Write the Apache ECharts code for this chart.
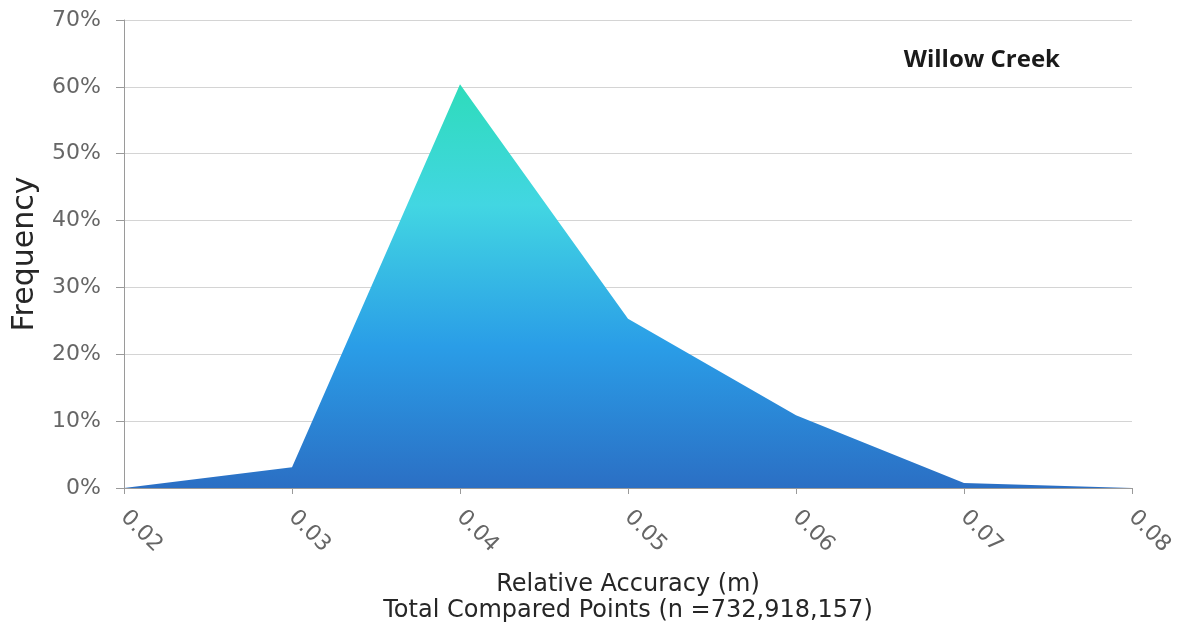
<!DOCTYPE html>
<html><head><meta charset="utf-8">
<script src="https://cdn.jsdelivr.net/npm/echarts@6/dist/echarts.min.js"></script>
<style>html,body{margin:0;padding:0;background:#fff}#c{width:1186px;height:630px}</style>
</head><body><div id="c"></div>
<script>
const categories = ['0.02','0.03','0.04','0.05','0.06','0.07','0.08'];
const frequency = [0, 3.1, 60.4, 25.3, 10.9, 0.75, 0];
const yTicks = [0,10,20,30,40,50,60,70];
const titleText = 'Willow Creek';
const xName = 'Relative Accuracy (m)\nTotal Compared Points (n =732,918,157)';
const yName = 'Frequency';

const chart = echarts.init(document.getElementById('c'));
const font = '"DejaVu Sans", sans-serif';
chart.setOption({
  animation: false,
  title: {
    text: titleText, right: 121, top: 43,
    textStyle: {fontFamily: '"Open Sans", sans-serif', fontWeight: 'bold', fontSize: 24, color: '#1a1a1a'}
  },
  grid: {left: 124, right: 54, top: 20, bottom: 142},
  xAxis: {
    type: 'category', data: categories, boundaryGap: false,
    axisLine: {lineStyle: {color: '#9a9a9a', width: 1}},
    axisTick: {show: true, length: 6, lineStyle: {color: '#9a9a9a'}},
    axisLabel: {rotate: -45, margin: 26, fontFamily: font, fontSize: 22, color: '#666'},
    name: xName, nameLocation: 'middle', nameGap: 84,
    nameTextStyle: {fontFamily: font, fontSize: 24, lineHeight: 26, color: '#262626'}
  },
  yAxis: {
    type: 'value', min: 0, max: 70, interval: 10,
    axisLine: {show: true, lineStyle: {color: '#9a9a9a'}},
    axisTick: {show: true, length: 8, lineStyle: {color: '#9a9a9a'}},
    splitLine: {lineStyle: {color: '#d4d4d4', width: 1}},
    axisLabel: {formatter: v => yTicks.includes(v) ? v + '%' : '', margin: 23, fontFamily: font, fontSize: 22, color: '#666'},
    name: yName, nameLocation: 'middle', nameGap: 84,
    nameTextStyle: {fontFamily: font, fontSize: 30, color: '#262626'}
  },
  series: [{
    type: 'line', data: frequency, symbol: 'none',
    lineStyle: {width: 0},
    areaStyle: {
      opacity: 1,
      color: new echarts.graphic.LinearGradient(0, 0, 0, 1, [
        {offset: 0, color: '#2edcbb'},
        {offset: 0.3, color: '#42d6e2'},
        {offset: 0.65, color: '#2a9de7'},
        {offset: 1, color: '#2b6fc4'}
      ])
    }
  }]
});
</script></body></html>
